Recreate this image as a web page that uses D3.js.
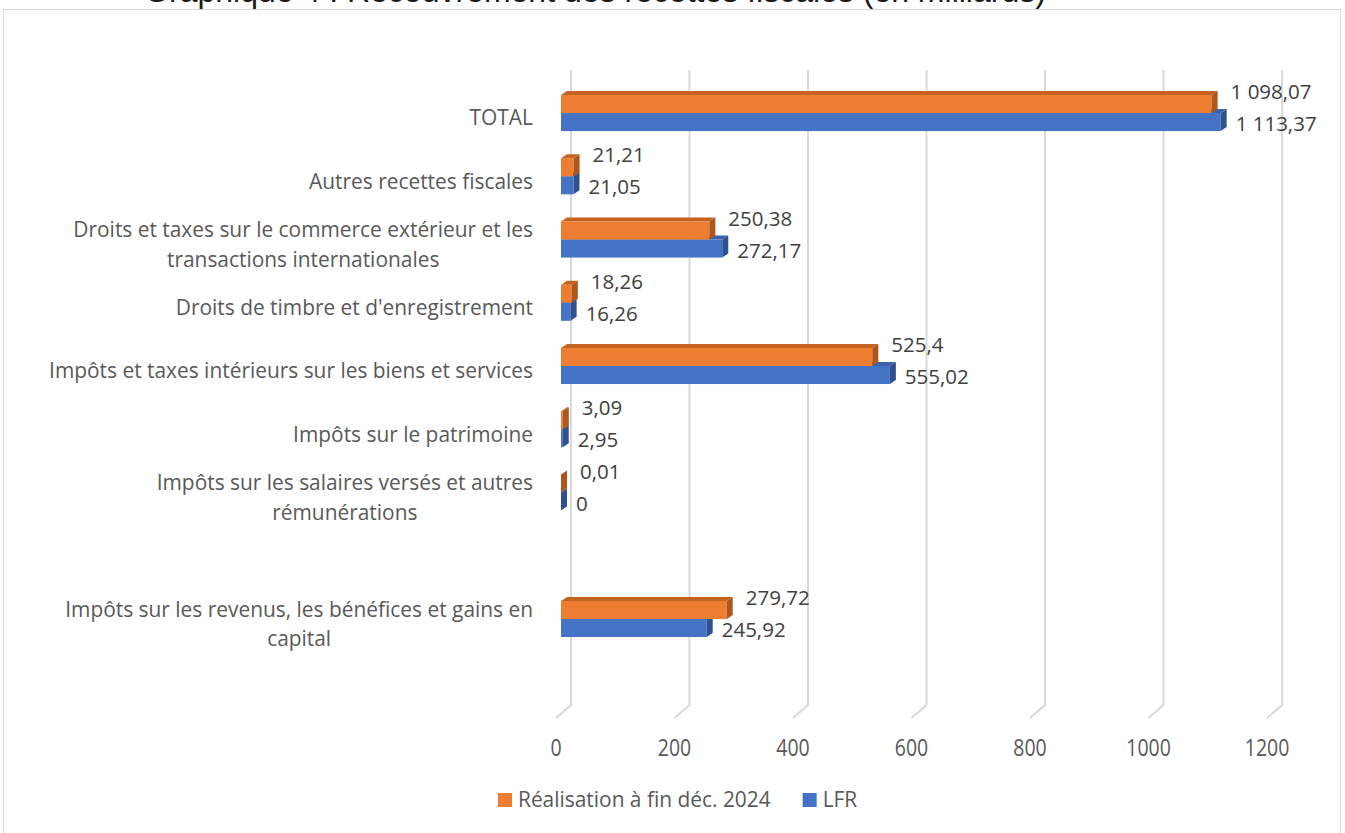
<!DOCTYPE html>
<html><head><meta charset="utf-8">
<script src="https://cdn.jsdelivr.net/npm/d3@7"></script>
<style>body{margin:0;background:#fff;overflow:hidden}</style>
</head><body><svg id="c" width="1345" height="833"></svg>
<script>
const title = "Graphique 4 : Recouvrement des recettes fiscales (en milliards)";
const categories = [
  "TOTAL",
  "Autres recettes fiscales",
  "Droits et taxes sur le commerce extérieur et les\ntransactions internationales",
  "Droits de timbre et d'enregistrement",
  "Impôts et taxes intérieurs sur les biens et services",
  "Impôts sur le patrimoine",
  "Impôts sur les salaires versés et autres\nrémunérations",
  "",
  "Impôts sur les revenus, les bénéfices et gains en\ncapital"
];
const realisation = [1098.07, 21.21, 250.38, 18.26, 525.4, 3.09, 0.01, null, 279.72];
const lfr = [1113.37, 21.05, 272.17, 16.26, 555.02, 2.95, 0, null, 245.92];
const seriesNames = ["Réalisation à fin déc. 2024", "LFR"];
const xTicks = [0, 200, 400, 600, 800, 1000, 1200];

const colors = [
  {front:"#ED7D31", top:"#C4631F", side:"#AE561B"},
  {front:"#4472C4", top:"#3A63AA", side:"#2F5190"}
];

const svg = d3.select("#c");
const fr = d3.formatLocale({decimal:",", thousands:" ", grouping:[3], currency:["","€"]});
const fmt = fr.format(",.2~f");

// frame
svg.append("rect").attr("x",3.5).attr("y",9.5).attr("width",1337).attr("height",840)
  .attr("fill","#fff").attr("stroke","#d9d9d9").attr("stroke-width",1);

// title (cut at top as in source)
svg.append("text").attr("x",595).attr("y",2).attr("text-anchor","middle")
  .attr("font-family","Liberation Sans, Arial, sans-serif").attr("font-size",32)
  .attr("fill","#1a1a1a").text(title);

const x = d3.scaleLinear().domain([0,1200]).range([561,1272]);
const y = d3.scaleBand().domain(d3.range(categories.length)).range([81.4,650.6])
  .paddingInner(0.43).paddingOuter(0.215);
const barH = y.bandwidth()/2;
const dx = 6, dy = 4;
const wallDx = 10;

// gridlines (back wall + floor diagonal)
const grid = svg.append("g");
xTicks.forEach(t => {
  const xb = x(t) + wallDx;
  grid.append("path")
    .attr("d", `M${xb},70 L${xb},705 L${xb-15},718`)
    .attr("fill","none").attr("stroke","#d9d9d9").attr("stroke-width",2);
});

// tick labels
svg.append("g").selectAll("text").data(xTicks).join("text")
  .attr("transform", d => `translate(${x(d) - 5},748) scale(0.95,1.12)`)
  .attr("dy","0.35em")
  .attr("text-anchor","middle").attr("font-family","Open Sans, sans-serif")
  .attr("font-size",20.5).attr("fill","#595959").text(d => d);

// bars: draw LFR (lower) first, then realisation on top
const series = [realisation, lfr];
const barsG = svg.append("g");
[1,0].forEach(s => {
  series[s].forEach((v,i) => {
    if (v === null) return;
    const yt = y(i) + s*barH;
    const x0 = x(0), x1 = x(v);
    const c = colors[s];
    barsG.append("polygon")
      .attr("points", `${x0},${yt} ${x0+dx},${yt-dy} ${x1+dx},${yt-dy} ${x1},${yt}`)
      .attr("fill", c.top);
    barsG.append("rect").attr("x",x0).attr("y",yt).attr("width",Math.max(0,x1-x0)).attr("height",barH)
      .attr("fill", c.front);
    barsG.append("polygon")
      .attr("points", `${x1},${yt} ${x1+dx},${yt-dy} ${x1+dx},${yt+barH-dy} ${x1},${yt+barH}`)
      .attr("fill", c.side);
  });
});

// data labels
const lab = svg.append("g").attr("font-family","Open Sans, sans-serif").attr("font-size",20.5).attr("fill","#404040");
realisation.forEach((v,i) => {
  if (v === null) return;
  lab.append("text").attr("x", x(v)+19).attr("y", y(i)+barH/2-12).attr("dy","0.35em").text(fmt(v));
});
lfr.forEach((v,i) => {
  if (v === null) return;
  lab.append("text").attr("x", x(v)+15).attr("y", y(i)+barH*1.5+2).attr("dy","0.35em").text(fmt(v));
});

// category labels
const catG = svg.append("g").attr("font-family","Open Sans, sans-serif").attr("font-size",20.9).attr("fill","#595959");
const right = 533, lineH = 29.5;
categories.forEach((c,i) => {
  if (!c) return;
  const lines = c.split("\n");
  const cy = y(i) + barH + 5;
  const g = catG.append("g");
  const texts = lines.map((l,k) => g.append("text")
    .attr("y", cy + (k - (lines.length-1)/2)*lineH).attr("dy","0.35em").text(l));
  const maxW = d3.max(texts, t => t.node().getComputedTextLength());
  texts.forEach(t => t.attr("x", right - maxW/2).attr("text-anchor","middle"));
});

// legend
const leg = svg.append("g").attr("font-family","Open Sans, sans-serif").attr("font-size",20.9).attr("fill","#595959");
let lx = 498;
seriesNames.forEach((n,s) => {
  leg.append("rect").attr("x",lx).attr("y",793).attr("width",14).attr("height",14).attr("fill",colors[s].front);
  const t = leg.append("text").attr("x",lx+20).attr("y",800).attr("dy","0.35em").text(n);
  lx += 20 + t.node().getComputedTextLength() + 32;
});
</script></body></html>
